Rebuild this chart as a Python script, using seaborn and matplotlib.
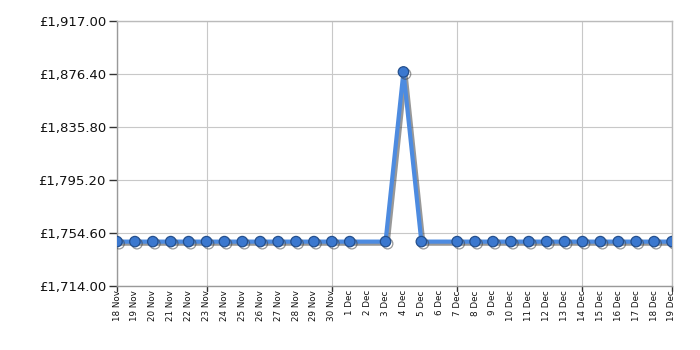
import matplotlib
matplotlib.use("Agg")
import matplotlib.pyplot as plt
import matplotlib.patheffects as pe
import numpy as np
import pandas as pd
import seaborn as sns

dates = ["18 Nov", "19 Nov", "20 Nov", "21 Nov", "22 Nov", "23 Nov", "24 Nov", "25 Nov",
         "26 Nov", "27 Nov", "28 Nov", "29 Nov", "30 Nov", "1 Dec", "2 Dec", "3 Dec",
         "4 Dec", "5 Dec", "6 Dec", "7 Dec", "8 Dec", "9 Dec", "10 Dec", "11 Dec",
         "12 Dec", "13 Dec", "14 Dec", "15 Dec", "16 Dec", "17 Dec", "18 Dec", "19 Dec"]
prices = [1748.0] * 14 + [None, 1748.0, 1878.0, 1748.0, None] + [1748.0] * 13
y_ticks = [1714.00, 1754.60, 1795.20, 1835.80, 1876.40, 1917.00]
grid_dates = ["18 Nov", "23 Nov", "30 Nov", "7 Dec", "14 Dec", "19 Dec"]

df = pd.DataFrame({"idx": np.arange(len(dates)), "price": prices}).dropna()

sns.set_style("white")
plt.rcParams["font.family"] = ["DejaVu Sans"]

fig = plt.figure(figsize=(7, 3.5), dpi=100)
ax = fig.add_axes([117 / 700, 1 - 286 / 350, (672 - 117) / 700, (286 - 21) / 350])

line_col = "#4d8be0"
sns.lineplot(data=df, x="idx", y="price", ax=ax, color=line_col, linewidth=3,
             marker="o", markersize=7.5, markerfacecolor="#3b78cf",
             markeredgecolor="#244f8c", markeredgewidth=0.9,
             path_effects=[pe.SimpleLineShadow(offset=(1.5, -1.5), shadow_color="#444444", alpha=0.55),
                           pe.Normal()], zorder=5)

ax.set_xlim(0, len(dates) - 1)
ax.set_ylim(y_ticks[0], y_ticks[-1])
ax.set_yticks(y_ticks)
ax.set_yticklabels([f"£{v:,.2f}" for v in y_ticks], fontsize=9.5, color="#111111")

ax.set_xticks(np.arange(len(dates)))
ax.set_xticklabels(dates, rotation=90, fontsize=6.3, color="#111111")
grid_idx = [dates.index(d) for d in grid_dates]
for i in grid_idx:
    ax.axvline(i, color="#c8c8c8", linewidth=0.8, zorder=0)
for v in y_ticks:
    ax.axhline(v, color="#c8c8c8", linewidth=0.8, zorder=0)

ax.tick_params(axis="x", length=0, pad=3)
ax.tick_params(axis="y", length=6, width=1, color="#333333", pad=2, left=True)
for i in grid_idx:
    ax.plot([i, i], [0, -0.02], transform=ax.get_xaxis_transform(), color="#333333",
            linewidth=1, clip_on=False)

ax.set_xlabel("")
ax.set_ylabel("")
for s in ["left", "bottom"]:
    ax.spines[s].set_color("#999999")
    ax.spines[s].set_linewidth(1)
for s in ["top", "right"]:
    ax.spines[s].set_color("#bbbbbb")
    ax.spines[s].set_linewidth(1)

fig.savefig("out.png", dpi=100)
